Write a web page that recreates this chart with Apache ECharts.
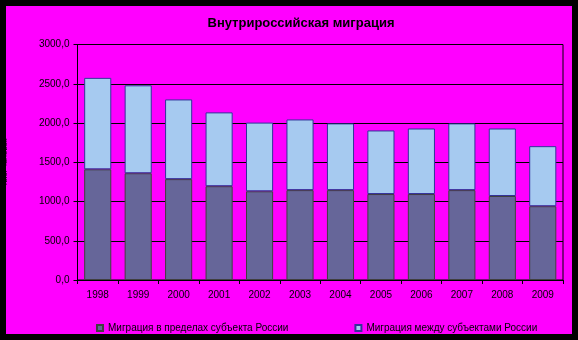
<!DOCTYPE html>
<html>
<head>
<meta charset="utf-8">
<script src="https://cdn.jsdelivr.net/npm/echarts@6/dist/echarts.min.js"></script>
<style>
html,body{margin:0;padding:0;background:#000;}
#wrap{position:relative;width:578px;height:340px;background:#000;overflow:hidden;}
#bg{position:absolute;left:6px;top:6px;width:566px;height:328px;background:#FF00FF;}
#chart{position:absolute;left:0;top:0;width:578px;height:340px;}
</style>
</head>
<body>
<div id="wrap"><div id="bg"></div><div id="chart"></div></div>
<script>
const titleText = 'Внутрироссийская миграция';
const yAxisName = 'тыс. человек';
const years = ['1998','1999','2000','2001','2002','2003','2004','2005','2006','2007','2008','2009'];
const seriesNames = ['Миграция в пределах субъекта России', 'Миграция между субъектами России'];
const withinRegion = [1410, 1360, 1285, 1195, 1130, 1145, 1145, 1095, 1095, 1145, 1070, 940];
const betweenRegions = [1165, 1120, 1015, 940, 875, 900, 850, 810, 835, 850, 860, 765];

const chart = echarts.init(document.getElementById('chart'), null, {renderer: 'canvas'});
const font = 'Liberation Sans, Arial, sans-serif';
chart.setOption({
  backgroundColor: 'transparent',
  animation: false,
  title: {
    text: titleText,
    left: 296, top: 12, textAlign: 'center',
    textStyle: {fontFamily: font, fontSize: 13, fontWeight: 'bold', color: '#000'}
  },
  legend: {
    left: 91, top: 318,
    itemWidth: 6, itemHeight: 6, itemGap: 66,
    icon: 'rect',
    textStyle: {fontFamily: font, fontSize: 10, color: '#000'},
    data: seriesNames
  },
  grid: {
    left: 77.5, right: 15, top: 44.5, bottom: 60,
    containLabel: false,
    outerBoundsMode: 'none',
    show: true, borderColor: '#000', borderWidth: 1, backgroundColor: 'transparent'
  },
  xAxis: {
    type: 'category',
    data: years,
    axisLine: {lineStyle: {color: '#000', width: 1}},
    axisTick: {show: true, length: 4, inside: false, lineStyle: {color: '#000'}},
    axisLabel: {fontFamily: font, fontSize: 10, color: '#000', margin: 10}
  },
  yAxis: {
    type: 'value',
    min: 0, max: 3000, interval: 500,
    name: yAxisName,
    nameLocation: 'middle', nameRotate: 90, nameGap: 69,
    nameTextStyle: {fontFamily: font, fontSize: 8, color: '#000'},
    axisLine: {show: true, lineStyle: {color: '#000', width: 1}},
    axisTick: {show: true, length: 4, lineStyle: {color: '#000'}},
    axisLabel: {fontFamily: font, fontSize: 10, color: '#000', margin: 8,
      formatter: v => v.toFixed(1).replace('.', ',')},
    splitLine: {show: true, lineStyle: {color: '#000', width: 1}}
  },
  series: [
    {
      name: seriesNames[0], type: 'bar', stack: 'total',
      data: withinRegion,
      barCategoryGap: '33%',
      itemStyle: {color: '#666699', borderColor: '#404040', borderWidth: 1}
    },
    {
      name: seriesNames[1], type: 'bar', stack: 'total',
      data: betweenRegions,
      barCategoryGap: '33%',
      itemStyle: {color: '#A6CAF0', borderColor: '#333399', borderWidth: 1}
    }
  ]
});
</script>
</body>
</html>
